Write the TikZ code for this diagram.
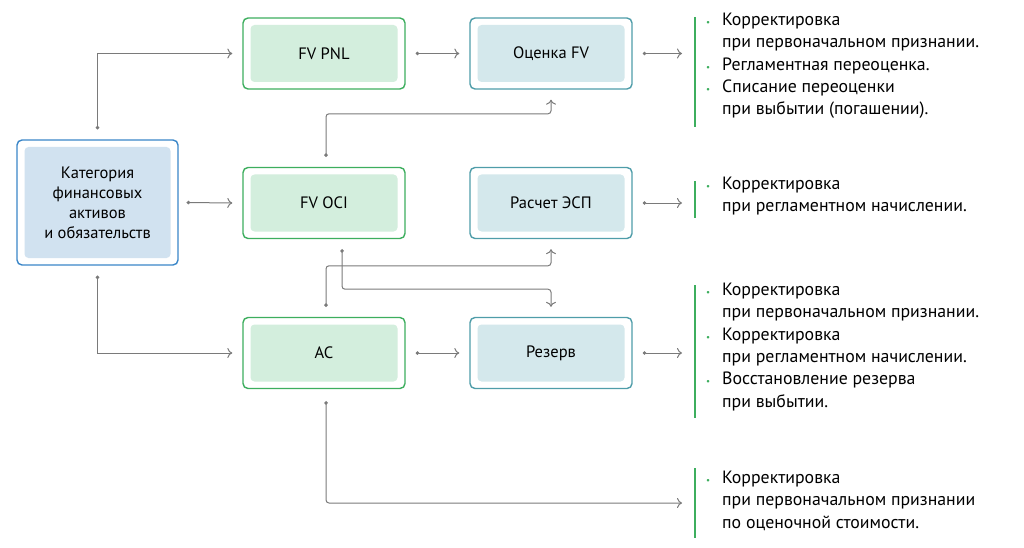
\documentclass[tikz,border=0pt]{standalone}
\usepackage{fontspec}
\setmainfont{PT Sans}
\usetikzlibrary{positioning}
\usetikzlibrary{calc}
\usetikzlibrary{arrows.meta}
\definecolor{grnline}{HTML}{3DAE5E}
\definecolor{grnfill}{HTML}{D3EEDD}
\definecolor{tealline}{HTML}{4F9DA9}
\definecolor{tealfill}{HTML}{D4E8EC}
\definecolor{blueline}{HTML}{3A86C8}
\definecolor{bluefill}{HTML}{D1E2F0}
\definecolor{conn}{HTML}{7A7A7A}
\tikzstyle{blk} = [rectangle,rounded corners=5pt,line width=1.4pt,minimum width=162pt,minimum height=71pt,align=center,inner sep=0pt]
\tikzstyle{inner} = [rectangle,rounded corners=4pt,draw=none,minimum width=147pt,minimum height=57pt,align=center,font=\fontsize{16.5}{20}\selectfont]
\tikzstyle{grn} = [blk,draw=grnline,fill=white]
\tikzstyle{tea} = [blk,draw=tealline,fill=white]
\tikzstyle{txt} = [anchor=north west,align=left,font=\fontsize{17.8}{22.3}\selectfont,inner sep=0pt]
\tikzstyle{bar} = [grnline,line width=1.3pt]
\newcommand{\bul}{\makebox[16pt][l]{\textcolor{grnline}{\small\textbullet}}}
\begin{document}
\begin{tikzpicture}
	[x=1pt,y=-1pt]
	\tikzstyle{link}=[conn,line width=1pt,{Circle[length=3.5pt]}-{To[length=5pt,width=10pt]}];
	\useasboundingbox (0,0) rectangle (1024,548);
	% blocks
	\node (cat) [blk,draw=blueline,fill=white,minimum width=161pt,minimum height=125pt] at (97.5,202.5) {};
	\node [inner,fill=bluefill,minimum width=146pt,minimum height=111pt] at (cat) {Категория\\финансовых\\активов\\и обязательств};
	\node (pnl) [grn] at (324,53.5) {};
	\node [inner,fill=grnfill] at (pnl) {FV PNL};
	\node (oci) [grn] at (324,203) {};
	\node [inner,fill=grnfill] at (oci) {FV OCI};
	\node (ac) [grn] at (324,353) {};
	\node [inner,fill=grnfill] at (ac) {AC};
	\node (fv) [tea] at (551,53.5) {};
	\node [inner,fill=tealfill] at (fv) {Оценка FV};
	\node (esp) [tea] at (551,203) {};
	\node [inner,fill=tealfill] at (esp) {Расчет ЭСП};
	\node (rez) [tea] at (551,353) {};
	\node [inner,fill=tealfill] at (rez) {Резерв};
	% notes
	\coordinate (n1) at (682,53.5);
	\coordinate (n2) at (682,203);
	\coordinate (n3) at (682,353);
	\coordinate (n4) at (682,503);
	\draw[bar] (695,17) -- (695,127);
	\draw[bar] (695,181) -- (695,218);
	\draw[bar] (695,285) -- (695,418);
	\draw[bar] (695,468) -- (695,538);
	\node [txt] at (706,13) {\bul Корректировка\\\hspace*{16pt}при первоначальном признании.\\\bul Регламентная переоценка.\\\bul Списание переоценки\\\hspace*{16pt}при выбытии (погашении).};
	\node [txt] at (706,177) {\bul Корректировка\\\hspace*{16pt}при регламентном начислении.};
	\node [txt] at (706,283) {\bul Корректировка\\\hspace*{16pt}при первоначальном признании.\\\bul Корректировка\\\hspace*{16pt}при регламентном начислении.\\\bul Восстановление резерва\\\hspace*{16pt}при выбытии.};
	\node [txt] at (706,471) {\bul Корректировка\\\hspace*{16pt}при первоначальном признании\\\hspace*{16pt}по оценочной стоимости.};
	% connectors
	\draw[link] ($(cat.north)+(0,-10)$) |- ($(pnl.west)+(-10,0)$);
	\draw[link] ($(cat.east)+(8,0)$) -- ($(oci.west)+(-10,0)$);
	\draw[link] ($(cat.south)+(0,10)$) |- ($(ac.west)+(-10,0)$);
	\draw[link] ($(pnl.east)+(10,0)$) -- ($(fv.west)+(-10,0)$);
	\draw[link] ($(ac.east)+(10,0)$) -- ($(rez.west)+(-10,0)$);
	\draw[link] ($(fv.east)+(10,0)$) -- (n1);
	\draw[link] ($(esp.east)+(10,0)$) -- (n2);
	\draw[link] ($(rez.east)+(10,0)$) -- (n3);
	\draw[link,rounded corners=3pt] ($(oci.north)+(2,-10)$) -- ++(0,-43) -| ($(fv.south)+(0,10)$);
	\draw[link,rounded corners=3pt] ($(oci.south)+(18,10)$) -- ++(0,40) -| ($(rez.north)+(0,-10)$);
	\draw[link,rounded corners=3pt] ($(ac.north)+(2,-10)$) -- ++(0,-41) -| ($(esp.south)+(0,10)$);
	\draw[link,rounded corners=3pt] ($(ac.south)+(2,12)$) |- (n4);
\end{tikzpicture}
\end{document}
